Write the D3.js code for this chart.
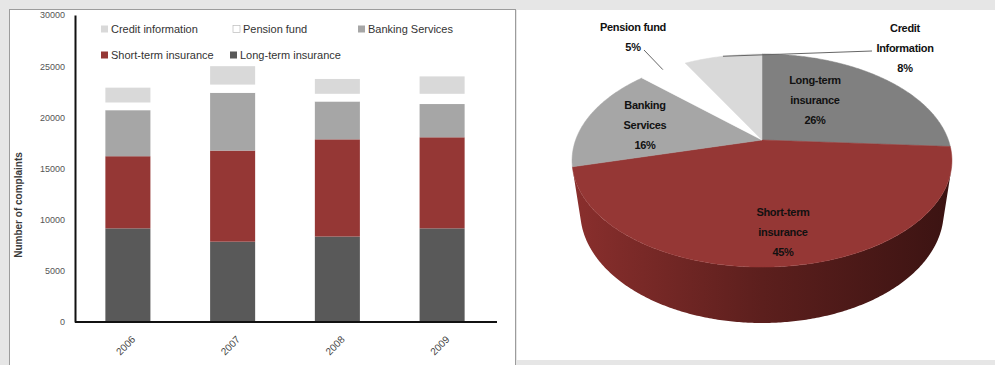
<!DOCTYPE html>
<html>
<head>
<meta charset="utf-8">
<script src="https://cdn.jsdelivr.net/npm/d3@7"></script>
<style>
  body { margin: 0; background: #e6e6e6; }
  svg { display: block; font-family: "Liberation Sans", Arial, sans-serif; }
</style>
</head>
<body>
<svg id="chart" width="995" height="365"></svg>
<script>
// ---- data ----
var years = ["2006", "2007", "2008", "2009"];
var longTerm  = [9150, 7850, 8350, 9150];
var shortTerm = [7050, 8900, 9500, 8900];
var banking   = [4500, 5650, 3700, 3250];
var pension   = [750, 800, 750, 1000];
var credit    = [1450, 1800, 1450, 1700];
var seriesNames = ["Long-term insurance", "Short-term insurance", "Banking Services", "Pension fund", "Credit information"];
var yTicks = [0, 5000, 10000, 15000, 20000, 25000, 30000];

var pieShares = [26, 45, 16, 5, 8];
var pieLabelLines = [["Long-term", "insurance"], ["Short-term", "insurance"], ["Banking", "Services"], ["Pension fund"], ["Credit", "Information"]];

// ---- colours ----
var barColors = ["#595959", "#953735", "#a6a6a6", "#ffffff", "#d9d9d9"];
var pieColors = ["#808080", "#953735", "#a6a6a6", "#ffffff", "#d9d9d9"];

var svg = d3.select("#chart");

// panels
svg.append("rect").attr("x", 9.5).attr("y", 9.5).attr("width", 506).attr("height", 362)
    .style("fill", "#fff").style("stroke", "#9c9c9c");
svg.append("rect").attr("x", 517).attr("y", 10).attr("width", 478).attr("height", 350)
    .style("fill", "#fff");

// ================= stacked bars =================
var x = d3.scaleBand().domain(years).range([75, 495]).paddingInner(0.57).paddingOuter(0.29);
var y = d3.scaleLinear().domain([0, 30000]).range([322, 15]);

var rows = years.map(function (yr, i) {
    return {year: yr, s0: longTerm[i], s1: shortTerm[i], s2: banking[i], s3: pension[i], s4: credit[i]};
});
var stack = d3.stack().keys(["s0", "s1", "s2", "s3", "s4"]);
var layers = stack(rows);

svg.append("g").selectAll("g")
    .data(layers)
    .enter().append("g")
    .style("fill", function (d, i) { return barColors[i]; })
    .selectAll("rect")
    .data(function (d) { return d; })
    .enter().append("rect")
    .attr("x", function (d) { return x(d.data.year); })
    .attr("width", x.bandwidth())
    .attr("y", function (d) { return y(d[1]); })
    .attr("height", function (d) { return y(d[0]) - y(d[1]); });

var yAxis = svg.append("g")
    .attr("transform", "translate(75,0)")
    .call(d3.axisLeft(y).tickValues(yTicks).tickFormat(d3.format("d"))
        .tickSize(0).tickSizeOuter(0).tickPadding(10));
yAxis.select(".domain").style("stroke", "#111").style("stroke-width", 2);
yAxis.selectAll("text").style("font-size", "9px").style("fill", "#555");

var xAxis = svg.append("g")
    .attr("transform", "translate(0,322)")
    .call(d3.axisBottom(x).tickSize(0).tickSizeOuter(0));
xAxis.select(".domain").attr("d", "M75,0H497").style("stroke", "#111").style("stroke-width", 2);
xAxis.selectAll("text")
    .style("font-size", "10px").style("fill", "#444")
    .style("text-anchor", "end")
    .attr("dy", 0)
    .attr("transform", "translate(6,16) rotate(-45)");

svg.append("text")
    .attr("transform", "translate(22,205) rotate(-90)")
    .style("text-anchor", "middle")
    .style("font-size", "10px").style("font-weight", "bold").style("fill", "#3a3a3a")
    .text("Number of complaints");

// legend (order as in the original: top layers first)
var legendSpots = [
    {idx: 4, x: 101, y: 29}, {idx: 3, x: 233, y: 29}, {idx: 2, x: 358, y: 29},
    {idx: 1, x: 101, y: 55}, {idx: 0, x: 230, y: 55}
];
var leg = svg.append("g").selectAll("g")
    .data(legendSpots)
    .enter().append("g")
    .attr("transform", function (d) { return "translate(" + d.x + "," + d.y + ")"; });
leg.append("rect")
    .attr("x", 0).attr("y", -3.5).attr("width", 7).attr("height", 7)
    .style("fill", function (d) { return barColors[d.idx]; })
    .style("stroke", function (d) { return d.idx == 3 ? "#bbb" : "none"; })
    .style("stroke-width", 0.7);
leg.append("text")
    .attr("x", 10).attr("y", 4)
    .style("font-size", "11px").style("fill", "#333")
    .text(function (d) { return seriesNames[d.idx]; });

// ================= 3D pie (perspective projection) =================
var cx = 762, cy = 140, K = 807, D = 4.33, H = 0.341;
var elev = 33.4 * Math.PI / 180, se = Math.sin(elev), ce = Math.cos(elev);

function proj(th, r, yw) {
    var X = r * Math.sin(th), Z = r * Math.cos(th);
    var yc = yw * ce + Z * se;
    var zc = -yw * se + Z * ce + D;
    return [cx + K * X / zc, cy - K * yc / zc];
}

var arcs = d3.pie().sort(null)(pieShares);

function rim(a0, a1, yw) {
    var pts = [], n = Math.max(2, Math.ceil((a1 - a0) / 0.01));
    for (var k = 0; k <= n; k++) pts.push(proj(a0 + (a1 - a0) * k / n, 1, yw));
    return pts;
}

// visible side of the cylinder
var sil = Math.acos(-1 / (D * ce));
var sideFrom = sil, sideTo = 2 * Math.PI - sil;

var defs = svg.append("defs");
var grad = defs.append("linearGradient").attr("id", "sideGrad")
    .attr("gradientUnits", "userSpaceOnUse")
    .attr("x1", 572).attr("x2", 952).attr("y1", 0).attr("y2", 0);
grad.append("stop").attr("offset", "0").attr("stop-color", "#8a2f2d");
grad.append("stop").attr("offset", "0.5").attr("stop-color", "#5c1f1d");
grad.append("stop").attr("offset", "1").attr("stop-color", "#3b1312");

var line = d3.line();
var sides = svg.append("g");
arcs.forEach(function (a, i) {
    var s = Math.max(a.startAngle, sideFrom), e = Math.min(a.endAngle, sideTo);
    if (e <= s) return;
    var pts = rim(s, e, 0).concat(rim(s, e, -H).reverse());
    sides.append("path")
        .attr("d", line(pts) + "Z")
        .style("fill", i == 1 ? "url(#sideGrad)" : d3.color(pieColors[i]).darker(1.2))
        .style("stroke", "none");
});

svg.append("g").selectAll("path")
    .data(arcs)
    .enter().append("path")
    .attr("d", function (d) {
        return line([[cx, cy]].concat(rim(d.startAngle, d.endAngle, 0))) + "Z";
    })
    .style("fill", function (d, i) { return pieColors[i]; })
    .style("stroke", function (d, i) { return pieColors[i]; })
    .style("stroke-width", 0.5);

// labels: anchor points relative to the pie centre
var labelAt = [[53, -40], [21, 92], [-117, -15], [-129, -103], [143, -92]];
var leaderEnd = [null, null, null, [-118, -90], [110, -89]];

var pieLab = svg.append("g").selectAll("g")
    .data(arcs)
    .enter().append("g");

pieLab.each(function (d, i) {
    var g = d3.select(this);
    if (leaderEnd[i]) {
        var mid = (d.startAngle + d.endAngle) / 2;
        var p = proj(mid, 1, 0);
        g.append("line")
            .attr("x1", p[0]).attr("y1", p[1])
            .attr("x2", cx + leaderEnd[i][0]).attr("y2", cy + leaderEnd[i][1])
            .style("stroke", "#666").style("stroke-width", 1);
    }
    var lines = pieLabelLines[i].concat([pieShares[i] + "%"]);
    var top = cy + labelAt[i][1] - (lines.length - 1) * 10;
    g.selectAll("text")
        .data(lines)
        .enter().append("text")
        .attr("x", cx + labelAt[i][0])
        .attr("y", function (t, k) { return top + k * 20 + 4; })
        .style("text-anchor", "middle")
        .style("font-size", "11px").style("font-weight", "bold")
        .style("letter-spacing", "-0.3px")
        .style("fill", "#111")
        .text(function (t) { return t; });
});
</script>
</body>
</html>
